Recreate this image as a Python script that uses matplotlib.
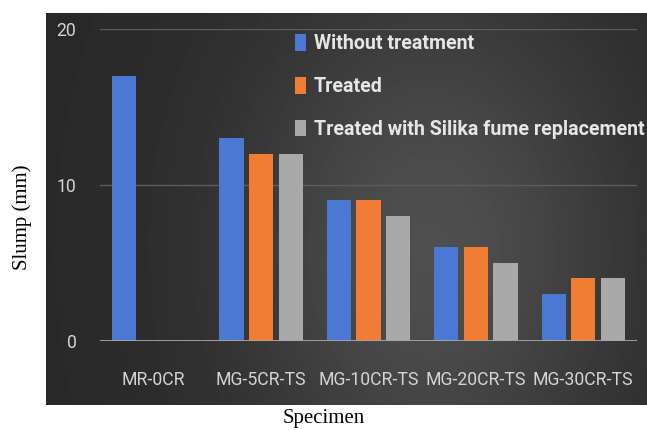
import numpy as np
import matplotlib
matplotlib.use('Agg')
import matplotlib.pyplot as plt

specimens = ['MR-0CR', 'MG-5CR-TS', 'MG-10CR-TS', 'MG-20CR-TS', 'MG-30CR-TS']
without_treatment = [17, 13, 9, 6, 3]
treated = [np.nan, 12, 9, 6, 4]
treated_silika = [np.nan, 12, 8, 5, 4]
series_names = ['Without treatment', 'Treated', 'Treated with Silika fume replacement']
yticks = [0, 10, 20]

colors = ['#4a78d2', '#f07d33', '#a9a9a9']
sans = ['Roboto', 'DejaVu Sans']


def fit_size(fig, text, width_px, weight='normal', start=12):
    # pick a font size so the text spans about width_px pixels
    t = fig.text(0, 0, text, family=sans, weight=weight, fontsize=start)
    w = t.get_window_extent(fig.canvas.get_renderer()).width
    t.remove()
    return start * width_px / w


fig = plt.figure(figsize=(6.47, 4.30), dpi=100)

tick_size = fit_size(fig, 'MG-10CR-TS', 100)
leg_size = fit_size(fig, series_names[2], 330, weight='bold')

# dark gradient panel behind the plot
bg = fig.add_axes([0.0711, 0.0581, 0.929, 0.9116])
gx, gy = np.meshgrid(np.linspace(0, 1, 300), np.linspace(0, 1, 200))
shade = 0.16 + 0.15 * np.exp(-((gx - 0.64) / 0.33) ** 2 - ((gy - 0.6) / 0.7) ** 2)
bg.imshow(shade, cmap='gray', vmin=0, vmax=1, aspect='auto', extent=[0, 1, 0, 1])
bg.axis('off')

ax = fig.add_axes([0.1546, 0.2077, 0.8299, 0.7249])
ax.patch.set_alpha(0)

x = np.arange(len(specimens))
step = 0.275
width = 0.225
for i, (vals, name) in enumerate(zip([without_treatment, treated, treated_silika], series_names)):
    ax.bar(x + (i - 1) * step, vals, width, color=colors[i], label=name, zorder=3)

ax.set_xlim(-0.5, len(specimens) - 0.5)
ax.set_ylim(0, 20)
ax.set_yticks(yticks)
ax.set_xticks(x)
ax.set_xticklabels(specimens)
ax.grid(axis='y', color='#5c5c5c', linewidth=1, zorder=0)
ax.axhline(0, color='#a8a8a8', linewidth=2, zorder=4)
for s in ax.spines.values():
    s.set_visible(False)
ax.tick_params(length=0, colors='#d4d4d4', labelsize=tick_size)
ax.tick_params(axis='y', pad=17)
ax.tick_params(axis='x', pad=22)
for lbl in ax.get_xticklabels() + ax.get_yticklabels():
    lbl.set_family(sans)

fig.text(0.034, 0.495, 'Slump (mm)', rotation=90, ha='center', va='center',
         family='Liberation Serif', fontsize=15)
fig.text(0.5, 0.026, 'Specimen', ha='center', va='center',
         family='Liberation Serif', fontsize=15)

leg = fig.legend(loc='upper left', bbox_to_anchor=(0.456, 0.921), frameon=False,
                 borderpad=0, borderaxespad=0, handlelength=0.55, handleheight=0.95,
                 handletextpad=0.4, labelspacing=1.2,
                 prop={'family': sans, 'weight': 'bold', 'size': leg_size})
for t in leg.get_texts():
    t.set_color('#e6e6e6')

fig.savefig('out.png', dpi=100)
